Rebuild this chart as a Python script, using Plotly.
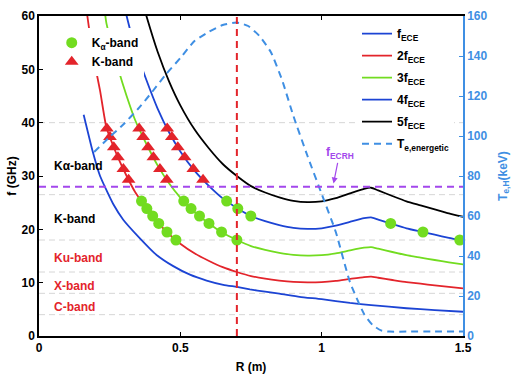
import numpy as np
import plotly.graph_objects as go

# ---------------- data ----------------
# harmonic curves (GHz) vs R (m)
R_harm = [0.171, 0.19, 0.216, 0.238, 0.26, 0.28, 0.31, 0.34, 0.38, 0.42, 0.46, 0.50,
          0.55, 0.60, 0.65, 0.70, 0.75, 0.80, 0.85, 0.90, 0.95, 1.00, 1.05, 1.10,
          1.15, 1.175, 1.20, 1.25, 1.30, 1.35, 1.40, 1.45, 1.50]
f2_ece = [60, 53, 46, 39.2, 36, 33.4, 30, 27, 24, 21.3, 19.1, 17.3,
          15.5, 14.1, 12.9, 12.0, 11.24, 10.76, 10.4, 10.14, 10.04, 10.1, 10.34, 10.7,
          11.04, 11.12, 10.92, 10.5, 10.1, 9.8, 9.5, 9.2, 8.94]
f3_ece = [None, None, 69, 58.8, 54, 50.1, 45, 40.5, 36, 31.95, 28.65, 25.95,
          23.25, 21.15, 19.35, 18.0, 16.86, 16.14, 15.6, 15.21, 15.06, 15.15, 15.51, 16.05,
          16.56, 16.68, 16.38, 15.75, 15.15, 14.7, 14.25, 13.8, 13.41]
f4_ece = [None, None, None, None, None, 66.8, 60, 54, 48, 42.6, 38.2, 34.6,
          31, 28.2, 25.8, 24, 22.48, 21.52, 20.8, 20.28, 20.08, 20.2, 20.68, 21.4,
          22.08, 22.24, 21.84, 21.0, 20.2, 19.6, 19.0, 18.4, 17.88]
f5_ece = [None, None, None, None, None, None, None, 67.5, 60, 53.25, 47.75, 43.25,
          38.75, 35.25, 32.25, 30, 28.1, 26.9, 26, 25.35, 25.1, 25.25, 25.85, 26.75,
          27.6, 27.8, 27.3, 26.25, 25.25, 24.5, 23.75, 23.0, 22.35]

R_f1 = [0.158, 0.19, 0.216, 0.239, 0.263, 0.298, 0.357, 0.392, 0.416, 0.475, 0.534,
        0.593, 0.652, 0.70, 0.746, 0.80, 0.85, 0.922, 1.0, 1.1, 1.175, 1.3, 1.4, 1.5]
f1_ece = [41.5, 34.6, 30.0, 27.3, 24.7, 21.8, 18.3, 16.4, 15.2, 13.1, 11.5,
          10.4, 9.6, 9.2, 8.75, 8.3, 7.95, 7.35, 6.9, 6.2, 5.8, 5.2, 4.85, 4.55]

# energetic electron temperature (keV, right axis)
R_te = [0.195, 0.25, 0.30, 0.35, 0.40, 0.45, 0.50, 0.55, 0.60, 0.65, 0.70, 0.74,
        0.78, 0.82, 0.86, 0.90, 0.95, 1.00, 1.05, 1.10, 1.15, 1.18, 1.21, 1.24,
        1.30, 1.40, 1.50]
te_energetic = [92, 99.5, 106, 113.5, 122, 131, 139, 147.5, 152, 155.5, 156.7, 155,
                150, 142, 128, 110, 90, 71, 52, 27, 11, 5.5, 2.8, 2.2,
                2.2, 2.2, 2.2]

# detection frequencies (GHz)
k_band_freqs = [38.9, 37.3, 35.4, 33.5, 31.3, 29.3]        # red triangles
ka_band_freqs = [25.3, 23.9, 22.5, 21.1, 19.5, 18.0]       # green circles

# band boundaries and labels
band_edges = [4, 8, 12, 18, 26.5, 40]
band_labels = ["Kα-band", "K-band", "Ku-band", "X-band", "C-band"]
band_label_f = [31.8, 22.0, 14.6, 9.4, 5.4]
band_label_colors = ["black", "black", "#e3242b", "#e3242b", "#e3242b"]

f_ecrh = 28.0
R_ecrh = 0.7

# ---------------- styling ----------------
FONT = "Liberation Sans"
BLUE = "#1c44d4"
RED = "#e3242b"
GREEN = "#72dc20"
BLACK = "#000000"
TE_BLUE = "#3f8fe3"
PURPLE = "#a347ec"


def r_at(Rs, Fs, f0, lo, hi):
    Rs = np.array(Rs, dtype=float)
    Fs = np.array([np.nan if v is None else v for v in Fs], dtype=float)
    m = (Rs >= lo) & (Rs <= hi) & ~np.isnan(Fs)
    r, f = Rs[m], Fs[m]
    o = np.argsort(f)
    return float(np.interp(f0, f[o], r[o]))


fig = go.Figure()

# harmonic lines
line_specs = [
    (R_f1, f1_ece, BLUE, "f<sub>ECE</sub>"),
    (R_harm, f2_ece, RED, "2f<sub>ECE</sub>"),
    (R_harm, f3_ece, GREEN, "3f<sub>ECE</sub>"),
    (R_harm, f4_ece, BLUE, "4f<sub>ECE</sub>"),
    (R_harm, f5_ece, BLACK, "5f<sub>ECE</sub>"),
]
for i, (Rs, Fs, col, name) in enumerate(line_specs):
    fig.add_trace(go.Scatter(x=Rs, y=Fs, mode="lines", name=name,
                             line=dict(color=col, width=1.8, shape="spline", smoothing=0.5),
                             legend="legend2", legendgroup=f"g{i}", connectgaps=False))

fig.add_trace(go.Scatter(x=R_te, y=te_energetic, mode="lines", yaxis="y2",
                         name="T<sub>e,energetic</sub>",
                         line=dict(color=TE_BLUE, width=2, dash="7px,5px",
                                   shape="spline", smoothing=0.5),
                         legend="legend2", legendgroup="gte"))

# marker positions on curves
tri_x, tri_y = [], []
for Fs in (f2_ece, f3_ece, f4_ece):
    for fk in k_band_freqs:
        tri_x.append(r_at(R_harm, Fs, fk, 0.15, 0.8))
        tri_y.append(fk)

cir_x, cir_y = [], []
for Fs in (f2_ece, f3_ece):
    for fk in ka_band_freqs:
        cir_x.append(r_at(R_harm, Fs, fk, 0.15, 0.9))
        cir_y.append(fk)
for fk in ka_band_freqs[:3]:
    cir_x.append(r_at(R_harm, f4_ece, fk, 0.5, 0.9))
    cir_y.append(fk)
for fk in ka_band_freqs[3:]:
    cir_x.append(r_at(R_harm, f4_ece, fk, 1.18, 1.5))
    cir_y.append(fk)

fig.add_trace(go.Scatter(x=cir_x, y=cir_y, mode="markers", name="K<sub>α</sub>-band",
                         marker=dict(symbol="circle", size=11, color=GREEN,
                                     line=dict(width=0)),
                         legend="legend", cliponaxis=False))
fig.add_trace(go.Scatter(x=tri_x, y=tri_y, mode="markers", name="K-band",
                         marker=dict(symbol="triangle-up", size=12, color=RED,
                                     line=dict(width=0)),
                         legend="legend", cliponaxis=False))

# shapes: band boundaries, ECRH frequency, R=0.7 line
shapes = []
for e in band_edges:
    shapes.append(dict(type="line", xref="paper", yref="y", x0=0, x1=1, y0=e, y1=e,
                       line=dict(color="#d6d6d6", width=1, dash="6px,4px"), layer="below"))
shapes.append(dict(type="line", xref="paper", yref="y", x0=0, x1=1, y0=f_ecrh, y1=f_ecrh,
                   line=dict(color=PURPLE, width=2, dash="7px,5px"), layer="above"))
shapes.append(dict(type="line", xref="x", yref="paper", x0=R_ecrh, x1=R_ecrh, y0=0, y1=1,
                   line=dict(color=RED, width=2, dash="7px,5px"), layer="above"))

annotations = []
for lab, fy, col in zip(band_labels, band_label_f, band_label_colors):
    annotations.append(dict(x=0.047, y=fy, xref="x", yref="y", text=lab, showarrow=False,
                            xanchor="left", yanchor="middle",
                            font=dict(family=FONT, size=12, color=col, weight="bold")))
annotations.append(dict(x=1.042, y=28.6, xref="x", yref="y", text="f<sub>ECRH</sub>",
                        showarrow=True, arrowhead=2, arrowsize=1, arrowwidth=1.2,
                        arrowcolor=PURPLE, ax=6, ay=-30,
                        font=dict(family=FONT, size=12, color=PURPLE, weight="bold")))

fig.update_layout(
    width=517, height=380,
    margin=dict(l=39, r=54, t=16, b=44, pad=0),
    paper_bgcolor="white", plot_bgcolor="white",
    font=dict(family=FONT, size=12, color="black", weight="bold"),
    shapes=shapes, annotations=annotations,
    xaxis=dict(range=[0, 1.5], tickvals=[0, 0.5, 1, 1.5], ticktext=["0", "0.5", "1", "1.5"],
               automargin=False,
               showgrid=False, zeroline=False, showline=True, linecolor="black", linewidth=1.5,
               mirror="ticks", ticks="inside", ticklen=4, tickcolor="black",
               tickfont=dict(family=FONT, size=12, color="black", weight="bold"),
               title=dict(text="R (m)", standoff=8,
                          font=dict(family=FONT, size=12, color="black", weight="bold"))),
    yaxis=dict(range=[0, 60], dtick=10, showgrid=False, zeroline=False, showline=True,
               automargin=False,
               linecolor="black", linewidth=1.5, ticks="inside", ticklen=4, tickcolor="black",
               tickfont=dict(family=FONT, size=12, color="black", weight="bold"),
               title=dict(text="f (GHz)", standoff=2,
                          font=dict(family=FONT, size=12, color="black", weight="bold"))),
    yaxis2=dict(range=[0, 160], dtick=20, overlaying="y", side="right", showgrid=False,
                automargin=False,
                zeroline=False, showline=True, linecolor=TE_BLUE, linewidth=1.5,
                ticks="inside", ticklen=4, tickcolor=TE_BLUE,
                tickfont=dict(family=FONT, size=12, color=TE_BLUE, weight="bold"),
                title=dict(text="T<sub>e,H</sub>(keV)", standoff=12,
                           font=dict(family=FONT, size=12, color=TE_BLUE, weight="bold"))),
    legend=dict(x=0.03, y=0.962, xanchor="left", yanchor="top", bgcolor="white",
                borderwidth=0, font=dict(family=FONT, size=12, color="black", weight="bold"),
                tracegroupgap=0, itemwidth=30),
    legend2=dict(x=0.75, y=0.99, xanchor="left", yanchor="top", bgcolor="white",
                 borderwidth=0, font=dict(family=FONT, size=12, color="black", weight="bold"),
                 tracegroupgap=3, itemwidth=30),
    showlegend=True,
)

fig.write_html("out.html", config={"displayModeBar": False},
               post_script="document.body.style.margin='0';")
